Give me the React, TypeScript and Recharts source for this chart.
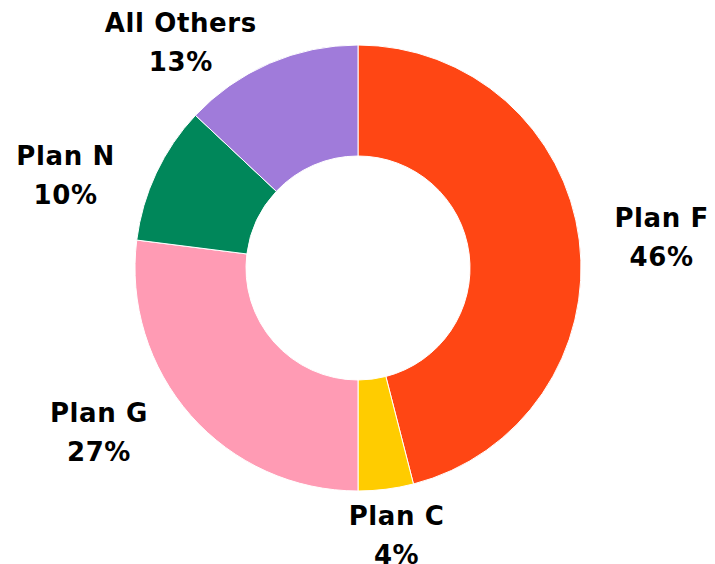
import { PieChart, Pie, Cell } from "recharts";

const planNames = ["Plan F", "Plan C", "Plan G", "Plan N", "All Others"];
const planShares = [46, 4, 27, 10, 13];
const planColors = ["#FF4614", "#FFCC00", "#FF9BB4", "#00875A", "#A07BDA"];

const data = planNames.map((name, i) => ({ name, value: planShares[i] }));

const RADIAN = Math.PI / 180;
// fine tuning of the outside labels, like the hand-placed ones in the original
const labelShift = [
  [6, 8],
  [1, 15],
  [-34, -2],
  [-21, 24],
  [-58, 19],
];

function renderLabel(props: any) {
  const { cx, cy, midAngle, index, name, value } = props;
  const x = cx + 300 * Math.cos(-midAngle * RADIAN) + labelShift[index][0];
  const y = cy + 260 * Math.sin(-midAngle * RADIAN) + labelShift[index][1];
  return (
    <text
      x={x}
      y={y}
      textAnchor="middle"
      fill="#000"
      fontSize={26}
      fontWeight={700}
      letterSpacing={0.6}
      fontFamily="'DejaVu Sans', sans-serif"
    >
      <tspan x={x} dy={-16}>
        {name}
      </tspan>
      <tspan x={x} dy={39}>
        {value}%
      </tspan>
    </text>
  );
}

export default function App() {
  return (
    <div style={{ position: "absolute", left: 0, top: 0, width: 715, height: 564, background: "#fff" }}>
      <PieChart width={715} height={564} margin={{ top: 0, right: 0, bottom: 0, left: 0 }}>
        <Pie
          data={data}
          dataKey="value"
          nameKey="name"
          cx={358}
          cy={268}
          innerRadius={112}
          outerRadius={223}
          startAngle={90}
          endAngle={-270}
          stroke="#fff"
          strokeWidth={1}
          label={renderLabel}
          labelLine={false}
          isAnimationActive={false}
        >
          {data.map((d, i) => (
            <Cell key={d.name} fill={planColors[i]} />
          ))}
        </Pie>
      </PieChart>
    </div>
  );
}
